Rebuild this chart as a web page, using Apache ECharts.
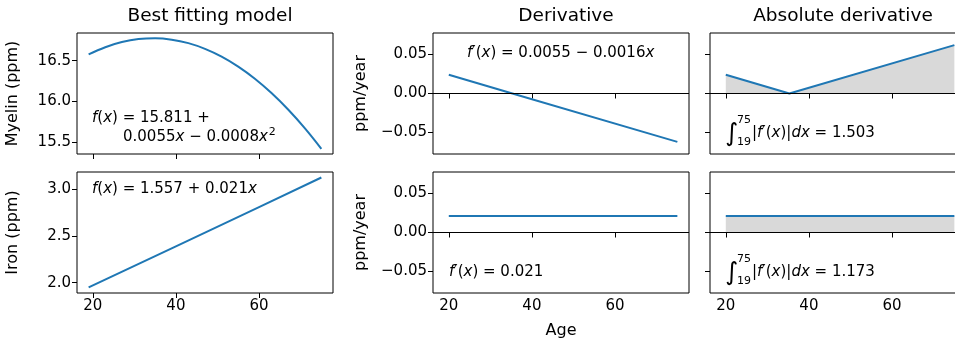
<!DOCTYPE html>
<html><head><meta charset="utf-8">
<script src="https://cdn.jsdelivr.net/npm/echarts@6/dist/echarts.min.js"></script>
<style>html,body{margin:0;padding:0;background:#fff}#c{width:955px;height:344px}</style>
</head><body><div id="c"></div>
<script>
// ---- data ----
const ageMyelin = [19, 23, 27, 31, 35, 39, 43, 47, 51, 55, 59, 63, 67, 71, 75];
const myelin = [16.576, 16.665, 16.728, 16.765, 16.775, 16.758, 16.715, 16.645, 16.549, 16.426, 16.277, 16.101, 15.898, 15.669, 15.414];
const ageIron = [19, 40, 60, 75];
const iron = [1.95, 2.39, 2.81, 3.126];
const ageDerivMyelin = [20, 35.3, 75];
const derivMyelin = [0.024, 0, -0.062];
const ageDerivIron = [20, 75];
const derivIron = [0.021, 0.021];
const xTicks = [20, 40, 60];
const myelinTicks = [15.5, 16.0, 16.5];
const ironTicks = [2.0, 2.5, 3.0];
const derivTicks = [-0.05, 0, 0.05];
const titles = ['Best fitting model', 'Derivative', 'Absolute derivative'];

const FONT = 'DejaVu Sans';
const BLUE = '#1f77b4';
const pairs = (xs, ys) => xs.map((x, i) => [x, ys[i]]);
const absPairs = (xs, ys) => xs.map((x, i) => [x, Math.abs(ys[i])]);
const minus = s => s.replace('-', '\u2212');

const colLeft = [77, 433, 710];
const rowTop = [33, 172];
const W = 256, H = 121;
const TICK_FS = 15, ANN_FS = 15, NAME_FS = 16;

const grids = [], xAxes = [], yAxes = [], series = [];
const yRanges = [[15.35, 16.84], [1.89, 3.185]];
const yTickSets = [myelinTicks, ironTicks];

function addPanel(row, col, yMin, yMax, yTicks, yFmt, showYLabels, yName, xName) {
  const idx = grids.length;
  grids.push({left: colLeft[col], top: rowTop[row], width: W, height: H, show: true,
    borderColor: '#000', borderWidth: 1, backgroundColor: 'transparent', containLabel: false,
    outerBoundsMode: 'none'});
  xAxes.push({type: 'value', gridIndex: idx, min: 16.2, max: 77.8,
    axisLine: {show: false}, splitLine: {show: false},
    axisTick: {show: true, inside: false, length: 5, lineStyle: {color: '#000', width: 1}, customValues: xTicks},
    axisLabel: {show: row === 1, customValues: xTicks, color: '#000', fontFamily: FONT, fontSize: TICK_FS, margin: 6},
    name: xName || '', nameLocation: 'middle', nameGap: 30,
    nameTextStyle: {color: '#000', fontFamily: FONT, fontSize: NAME_FS}});
  yAxes.push({type: 'value', gridIndex: idx, min: yMin, max: yMax,
    axisLine: {show: false}, splitLine: {show: false},
    axisTick: {show: true, inside: false, length: 5, lineStyle: {color: '#000', width: 1}, customValues: yTicks},
    axisLabel: {show: showYLabels, customValues: yTicks, formatter: yFmt, color: '#000', fontFamily: FONT, fontSize: TICK_FS, margin: 6},
    name: yName || '', nameLocation: 'middle', nameGap: col === 0 ? 56 : 64,
    nameTextStyle: {color: '#000', fontFamily: FONT, fontSize: NAME_FS}});
  return idx;
}

const zeroLine = {silent: true, symbol: 'none', label: {show: false},
  lineStyle: {color: '#000', width: 1, type: 'solid'}, data: [{yAxis: 0}], animation: false};
const derivFmt = v => minus(v.toFixed(2));

const dataModel = [pairs(ageMyelin, myelin), pairs(ageIron, iron)];
const dataDeriv = [pairs(ageDerivMyelin, derivMyelin), pairs(ageDerivIron, derivIron)];
const dataAbs = [absPairs(ageDerivMyelin, derivMyelin), absPairs(ageDerivIron, derivIron)];
const yNames = ['Myelin (ppm)', 'Iron (ppm)'];

for (let r = 0; r < 2; r++) {
  const g0 = addPanel(r, 0, yRanges[r][0], yRanges[r][1], yTickSets[r], v => v.toFixed(1), true, yNames[r], '');
  series.push({type: 'line', xAxisIndex: g0, yAxisIndex: g0, data: dataModel[r], smooth: r === 0 ? 0.4 : false,
    showSymbol: false, lineStyle: {color: BLUE, width: 2}, animation: false});
  const g1 = addPanel(r, 1, -0.0775, 0.0775, derivTicks, derivFmt, true, 'ppm/year', r === 1 ? 'Age' : '');
  series.push({type: 'line', xAxisIndex: g1, yAxisIndex: g1, data: dataDeriv[r], showSymbol: false,
    lineStyle: {color: BLUE, width: 2}, animation: false, markLine: zeroLine});
  const g2 = addPanel(r, 2, -0.0775, 0.0775, derivTicks, derivFmt, false, '', '');
  series.push({type: 'line', xAxisIndex: g2, yAxisIndex: g2, data: dataAbs[r], showSymbol: false,
    lineStyle: {color: BLUE, width: 2}, areaStyle: {color: '#d9d9d9', opacity: 1, origin: 0},
    animation: false, markLine: zeroLine});
}

const colCenters = colLeft.map(l => l + W / 2);
const title = titles.map((t, i) => ({text: t, left: colCenters[i], top: 2, textAlign: 'center',
  textStyle: {color: '#000', fontFamily: FONT, fontSize: 18.5, fontWeight: 'normal'}}));

function st(fs, italic) {
  return {fontFamily: FONT, fontSize: fs, fontStyle: italic ? 'italic' : 'normal', fill: '#000'};
}
const rich = {i: st(ANN_FS, true), n: st(ANN_FS, false),
  s: Object.assign(st(11, false), {verticalAlign: 'top', padding: [0, 0, 9, 1]})};
function txt(x, y, text, extra) {
  return {type: 'text', x: x, y: y, silent: true,
    style: Object.assign({text: text, rich: rich, verticalAlign: 'middle', align: 'left'}, st(ANN_FS, false), extra || {})};
}
function integral(x, y, value) {
  return [
    txt(x, y + 1, '\u222B', {fontSize: 25, fontStyle: 'italic'}),
    txt(x + 12, y - 13, '75', {fontSize: 11}),
    txt(x + 12, y + 9, '19', {fontSize: 11}),
    txt(x + 27, y, '|{i|f}\u2032({i|x})|{i|dx} = ' + value)
  ];
}
const graphic = [
  txt(92, 118, '{i|f}({i|x}) = 15.811 +'),
  txt(123, 137, '0.0055{i|x} \u2212 0.0008{i|x}{s|2}'),
  txt(92, 189, '{i|f}({i|x}) = 1.557 + 0.021{i|x}'),
  txt(467, 53, '{i|f}\u2032({i|x}) = 0.0055 \u2212 0.0016{i|x}'),
  txt(449, 272, '{i|f}\u2032({i|x}) = 0.021'),
].concat(integral(725, 133, '1.503')).concat(integral(725, 272, '1.173'));

const chart = echarts.init(document.getElementById('c'), null, {renderer: 'canvas'});
chart.setOption({backgroundColor: '#fff', animation: false, title: title, grid: grids,
  xAxis: xAxes, yAxis: yAxes, series: series, graphic: graphic});
</script></body></html>
